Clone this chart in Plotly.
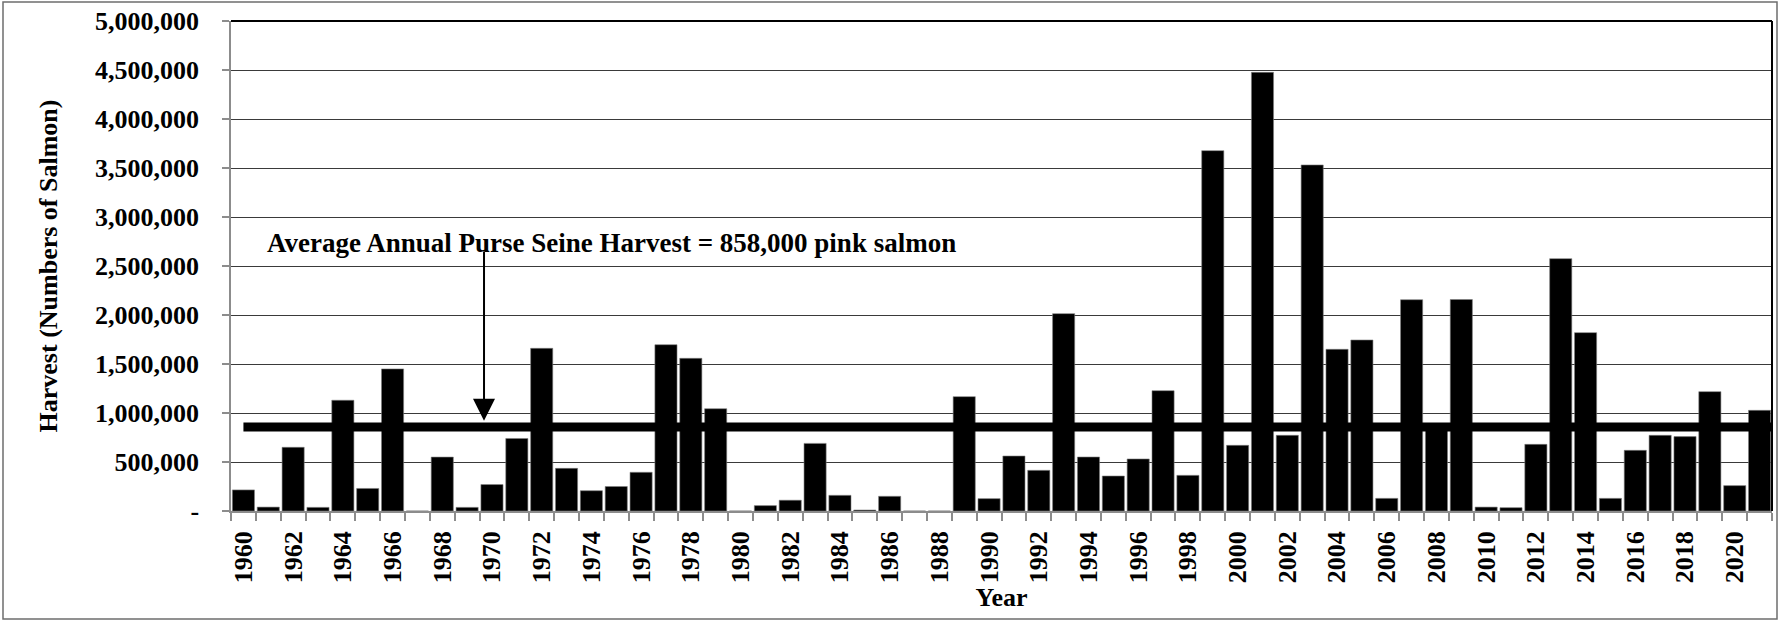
import plotly.graph_objects as go

years = list(range(1960, 2022))
harvest = [
    215000, 40000, 650000, 37000, 1130000, 230000, 1450000, 0, 550000, 37000,
    270000, 740000, 1660000, 435000, 207000, 250000, 395000, 1697000, 1558000, 1044000,
    0, 55000, 110000, 690000, 160000, 10000, 150000, 0, 0, 1167000,
    126000, 561000, 415000, 2014000, 551000, 357000, 531000, 1228000, 364000, 3677000,
    670000, 4476000, 772000, 3531000, 1650000, 1745000, 129000, 2156000, 870000, 2158000,
    40000, 34000, 680000, 2575000, 1820000, 129000, 619000, 772000, 759000, 1218000,
    259000, 1027000,
]
avg_harvest = 858000
avg_label = "Average Annual Purse Seine Harvest = 858,000 pink salmon"

y_tickvals = [0, 500000, 1000000, 1500000, 2000000, 2500000, 3000000, 3500000, 4000000, 4500000, 5000000]
y_ticktext = ["-", "500,000", "1,000,000", "1,500,000", "2,000,000", "2,500,000",
              "3,000,000", "3,500,000", "4,000,000", "4,500,000", "5,000,000"]
x_label_years = years[::2]
x_boundaries = [y - 0.5 for y in years] + [years[-1] + 0.5]

FONT = "Liberation Serif, Times New Roman, serif"
W, H = 1780, 621
ML, MR, MT, MB = 231, 8, 21, 110
PW, PH = W - ML - MR, H - MT - MB

fig = go.Figure()
fig.add_trace(go.Bar(
    x=years, y=harvest,
    marker=dict(color="black", line=dict(color="#7f7f7f", width=0.6)),
    showlegend=False,
))
fig.add_trace(go.Scatter(
    x=[years[0], years[-1] + 0.5], y=[avg_harvest, avg_harvest],
    mode="lines", line=dict(color="black", width=9),
    showlegend=False, cliponaxis=False,
))

fig.update_layout(
    width=W, height=H,
    margin=dict(l=ML, r=MR, t=MT, b=MB, autoexpand=False),
    paper_bgcolor="white", plot_bgcolor="white",
    bargap=0.11,
    font=dict(family=FONT, size=26, color="black", weight="bold"),
)
fig.update_xaxes(
    range=[years[0] - 0.5, years[-1] + 0.5],
    automargin=False,
    tickmode="array", tickvals=x_label_years, ticktext=[str(y) for y in x_label_years],
    tickangle=-90, ticks="outside", ticklen=8, tickcolor="rgba(0,0,0,0)",
    ticklabelstandoff=0,
    showgrid=False,
    tickfont=dict(family=FONT, size=26, color="black", weight="bold"),
    showline=True, linecolor="#8c8c8c", linewidth=1.5,
    minor=dict(tickmode="array", tickvals=x_boundaries, ticks="outside", ticklen=8,
               tickcolor="#8c8c8c", tickwidth=1.5, showgrid=False),
    title=dict(text="Year", font=dict(family=FONT, size=26, color="black", weight="bold"), standoff=0),
    zeroline=False,
)
fig.update_yaxes(
    range=[0, 5000000],
    automargin=False,
    tickmode="array", tickvals=y_tickvals, ticktext=y_ticktext,
    ticks="outside", ticklen=7, tickcolor="#8c8c8c", tickwidth=1.5,
    ticklabelstandoff=18,
    tickfont=dict(family=FONT, size=26, color="black", weight="bold"),
    showgrid=True, gridcolor="#3a3a3a", gridwidth=1.4,
    showline=True, linecolor="#8c8c8c", linewidth=1.5,
    zeroline=False,
    title=dict(text="Harvest (Numbers of Salmon)", font=dict(family=FONT, size=26, color="black", weight="bold"), standoff=30),
)

# plot-area border (top and right)
fig.add_shape(type="line", xref="paper", yref="paper", x0=0, x1=1, y0=1, y1=1,
              line=dict(color="black", width=2))
fig.add_shape(type="line", xref="paper", yref="paper", x0=1, x1=1, y0=0, y1=1,
              line=dict(color="black", width=2))
# chart-area border
fig.add_shape(type="rect", xref="paper", yref="paper",
              x0=(3 - ML) / PW, x1=(W - 3 - ML) / PW,
              y0=-(H - 2 - (MT + PH)) / PH, y1=1 + (MT - 2) / PH,
              line=dict(color="#6e6e6e", width=1.5))

fig.add_annotation(
    x=1969.68, y=921000, ax=1969.68, ay=2663000, xref="x", yref="y", axref="x", ayref="y",
    text="", showarrow=True, arrowhead=2, arrowsize=2.2, arrowwidth=2, arrowcolor="black",
)
fig.add_annotation(
    x=1960.85, y=2730000, xref="x", yref="y", xanchor="left", yanchor="middle",
    text=avg_label, showarrow=False,
    font=dict(family=FONT, size=27, color="black", weight="bold"),
)

fig.write_html(
    "out.html",
    config={"displayModeBar": False},
    post_script="document.body.style.margin='0';document.body.style.overflow='hidden';",
)
